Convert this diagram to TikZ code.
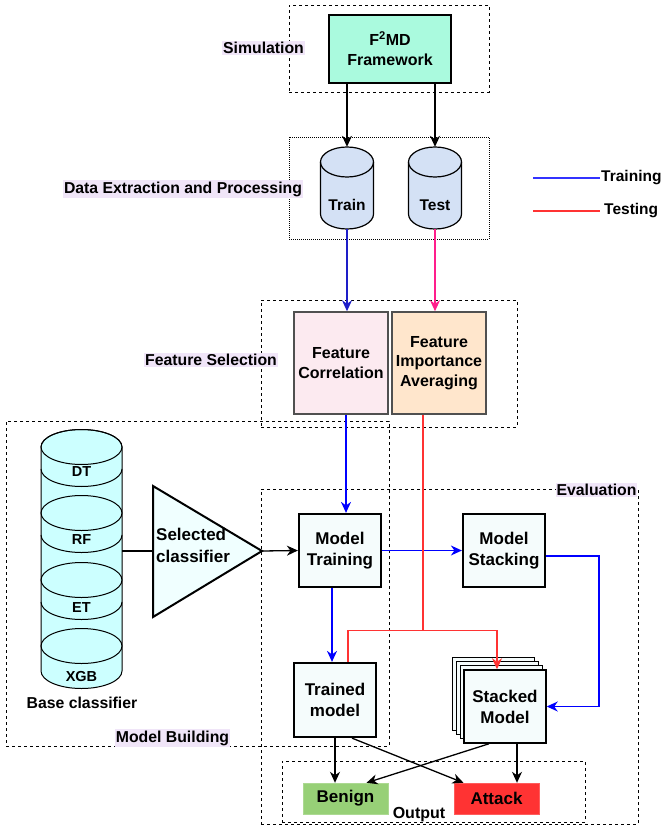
\documentclass[tikz,border=0pt]{standalone}
\usepackage{fontspec}
\setmainfont{Liberation Sans}
\usetikzlibrary{arrows.meta,calc}
\definecolor{lav}{RGB}{240,229,248}
\definecolor{mint}{RGB}{170,250,222}
\definecolor{cylblue}{RGB}{212,225,245}
\definecolor{cylcyan}{RGB}{204,255,255}
\definecolor{tricyan}{RGB}{240,255,255}
\definecolor{boxfill}{RGB}{245,252,252}
\definecolor{corrfill}{RGB}{252,234,240}
\definecolor{impfill}{RGB}{255,230,204}
\definecolor{benignc}{RGB}{151,208,119}
\definecolor{attackc}{RGB}{255,51,51}
\definecolor{bluel}{RGB}{0,0,255}
\definecolor{legblue}{RGB}{51,51,255}
\definecolor{darkbl}{RGB}{30,30,200}
\definecolor{redl}{RGB}{255,51,51}
\definecolor{pinkl}{RGB}{255,30,140}
\definecolor{grayb}{RGB}{80,80,80}
\newcommand\fsz[2]{\fontsize{#1pt}{#2pt}\selectfont\bfseries}
\begin{document}
\begin{tikzpicture}[x=1pt,y=-1pt,
  lbl/.style={fill=lav, inner xsep=1pt, inner ysep=1.5pt, font=\fsz{15.8}{19}},
  dbox/.style={draw, dash pattern=on 3pt off 3pt, line width=0.8pt, inner sep=0pt},
  dotbox/.style={draw, dash pattern=on 1pt off 1pt, line width=0.8pt, inner sep=0pt},
  thickbox/.style={draw, line width=2.2pt, fill=boxfill, inner sep=0pt, align=center, font=\fsz{17}{21}},
  featbox/.style={draw=grayb, line width=1.5pt, inner sep=0pt, align=center, font=\fsz{16}{19.5}},
  ghost/.style={inner sep=0pt, draw=none},
  conn/.style={line width=1.3pt},
  arr/.style={conn, -{Stealth[length=11pt,width=10pt,inset=3.5pt]}},
  outbox/.style={inner sep=0pt, align=center, font=\fsz{17}{21}}
]
\useasboundingbox (0,0) rectangle (665,829);

% ---------- group boxes ----------
\node[dbox, minimum width=200pt, minimum height=87pt] (simbox) at (389,48.5) {};
\node[dotbox, minimum width=200pt, minimum height=102pt] (databox) at (389,188) {};
\node[dbox, minimum width=256pt, minimum height=127pt] (featgrp) at (389,363.5) {};
\node[dbox, minimum width=383pt, minimum height=325pt] (mbgrp) at (197.5,583.5) {};
\node[dbox, minimum width=377pt, minimum height=335pt] (evgrp) at (449.5,656.5) {};
\node[dbox, minimum width=303pt, minimum height=61pt] (outgrp) at (433.5,791.5) {};

% ---------- simulation ----------
\node[draw, line width=2.2pt, fill=mint, minimum width=122pt, minimum height=68pt, align=center, font=\fsz{16}{20}] (f2md) at (390,49) {F\textsuperscript{2}MD\\Framework};
\node[lbl] (simlbl) at (263.5,48) {Simulation};

% ---------- train / test cylinders ----------
\filldraw[line width=1.2pt, fill=cylblue] (320.5,162) -- (320.5,214) arc[start angle=180,end angle=360,x radius=26.5pt,y radius=15pt] -- (373.5,162) arc[start angle=0,end angle=180,x radius=26.5pt,y radius=15pt] -- cycle;
\draw[line width=1.2pt] (320.5,162) arc[start angle=180,end angle=360,x radius=26.5pt,y radius=15pt];
\node[ghost, minimum width=53pt, minimum height=82pt] (train) at (347,188) {};
\node[font=\fsz{15.5}{19}] (traintxt) at (347,205) {Train};

\filldraw[line width=1.2pt, fill=cylblue] (408.5,162) -- (408.5,214) arc[start angle=180,end angle=360,x radius=26.5pt,y radius=15pt] -- (461.5,162) arc[start angle=0,end angle=180,x radius=26.5pt,y radius=15pt] -- cycle;
\draw[line width=1.2pt] (408.5,162) arc[start angle=180,end angle=360,x radius=26.5pt,y radius=15pt];
\node[ghost, minimum width=53pt, minimum height=82pt] (test) at (435,188) {};
\node[font=\fsz{15.5}{19}] (testtxt) at (435,205) {Test};

\node[lbl] (datalbl) at (183,189) {Data Extraction and Processing};

% ---------- legend ----------
\coordinate (lgA) at (533,178);
\coordinate (lgB) at (600,178);
\coordinate (lgC) at (533,211);
\coordinate (lgD) at (600,211);
\draw[line width=2pt, color=legblue] (lgA) -- (lgB);
\draw[line width=2pt, color=redl] (lgC) -- (lgD);
\node[anchor=west, inner sep=1pt, font=\fsz{15.5}{19}] (lgtrain) at (lgB) {Training};
\node[anchor=west, inner sep=1pt, font=\fsz{15.5}{19}] (lgtest) at ([xshift=3pt]lgD) {Testing};

% ---------- feature selection ----------
\node[featbox, fill=corrfill, minimum width=94pt, minimum height=102pt] (corr) at (341,363) {Feature\\Correlation};
\node[featbox, fill=impfill, minimum width=94pt, minimum height=102pt] (imp) at (439,363) {Feature\\Importance\\Averaging};
\node[lbl] (featlbl) at (211,360) {Feature Selection};

% ---------- base classifiers ----------
\filldraw[line width=1pt, fill=cylcyan] (41,447) -- (41,671) arc[start angle=180,end angle=360,x radius=40.5pt,y radius=17.5pt] -- (122,447) arc[start angle=0,end angle=180,x radius=40.5pt,y radius=17.5pt] -- cycle;
\foreach \t in {447,513,580,646}{
  \draw[line width=1pt] (81.5,\t) ellipse[x radius=40.5pt, y radius=17.5pt];
}
\foreach \b in {469,535,602}{
  \draw[line width=1pt] (41,\b) arc[start angle=180,end angle=360,x radius=40.5pt,y radius=17.5pt];
}
\node[ghost, minimum width=81pt, minimum height=265pt] (basecyl) at (81.5,557) {};
\node[font=\fsz{14.5}{18}] (dt) at (81.5,472) {DT};
\node[font=\fsz{14.5}{18}] (rf) at (81.5,540) {RF};
\node[font=\fsz{14.5}{18}] (et) at (81.5,608) {ET};
\node[font=\fsz{14.5}{18}] (xgb) at (81.5,677) {XGB};
\node[font=\fsz{15.8}{19}] (baselbl) at (82,703) {Base classifier};

% triangle
\filldraw[line width=2pt, fill=tricyan, line join=miter] (153,486) -- (262,551) -- (153,617) -- cycle;
\coordinate (triL) at (153,551);
\coordinate (triR) at (262,551);
\node[anchor=north west, inner sep=0pt, align=left, font=\fsz{17}{22}] (seltxt) at (156,528) {Selected\\classifier};

\node[lbl] (mblbl) at (172.5,738) {Model Building};

% ---------- evaluation ----------
\node[thickbox, minimum width=82pt, minimum height=73pt] (mtrain) at (340,550.5) {Model\\Training};
\node[thickbox, minimum width=82pt, minimum height=73pt] (mstack) at (504,550.5) {Model\\Stacking};
\node[thickbox, minimum width=82pt, minimum height=74pt] (trained) at (335,700) {Trained\\model};

\foreach \k in {0,1,2}{
  \draw[line width=1pt, fill=boxfill] ({452+4*\k},{657+4.3*\k}) rectangle ++(82,73);
}
\node[draw, line width=1.5pt, fill=boxfill, minimum width=82pt, minimum height=73pt, inner sep=0pt, align=center, font=\fsz{17}{21}] (stacked) at (505,706.5) {Stacked\\Model};

\node[lbl] (evlbl) at (596.5,490) {Evaluation};

% ---------- output ----------
\node[fill=benignc, draw=benignc!80!white, minimum width=85pt, minimum height=31pt, outbox] (benign) at (345.5,798.5) {Benign};
\node[fill=attackc, draw=attackc!80!white, minimum width=85pt, minimum height=31pt, outbox] (attack) at (496.5,798.5) {Attack};
\node[font=\fsz{16}{19}] (outlbl) at (419,815) {Output};

% ---------- connectors ----------
\draw[arr] (f2md.south -| train.north) -- (train.north);
\draw[arr] (f2md.south -| test.north) -- (test.north);
\draw[arr, color=darkbl] (train.south) -- (train.south |- corr.north);
\draw[arr, color=pinkl] (test.south) -- (test.south |- imp.north);
\draw[arr, color=bluel] ([xshift=5pt]corr.south) -- ([xshift=5pt]corr.south |- mtrain.north);
\draw[conn] (basecyl.east |- triL) -- (triL);
\draw[arr] (triR) -- (mtrain.west);
\draw[arr, color=bluel] (mtrain.east) -- (mstack.west);
\draw[arr, color=bluel] ([xshift=-8pt]mtrain.south) -- ([xshift=-8pt]mtrain.south |- trained.north);
\draw[arr, color=bluel] ([yshift=-5.5pt]mstack.east) -- ++(53,0) |- (stacked.east);
\coordinate (rsplit) at ($(imp.south)+(-16,216)$);
\draw[conn, color=redl] ([xshift=-16pt]imp.south) -- (rsplit);
\draw[conn, color=redl] (rsplit) -| ([xshift=13pt]trained.north);
\draw[arr, color=redl] (rsplit) -| ([xshift=-8pt]stacked.north);
\draw[arr] (trained.south) -- (trained.south |- benign.north);
\draw[arr] ([xshift=17pt]trained.south) -- ([xshift=-33pt]attack.north);
\draw[arr] ([xshift=-16pt]stacked.south) -- ([xshift=21pt]benign.north);
\draw[arr] ([xshift=12pt]stacked.south) -- ([xshift=12pt]stacked.south |- attack.north);
\end{tikzpicture}
\end{document}
